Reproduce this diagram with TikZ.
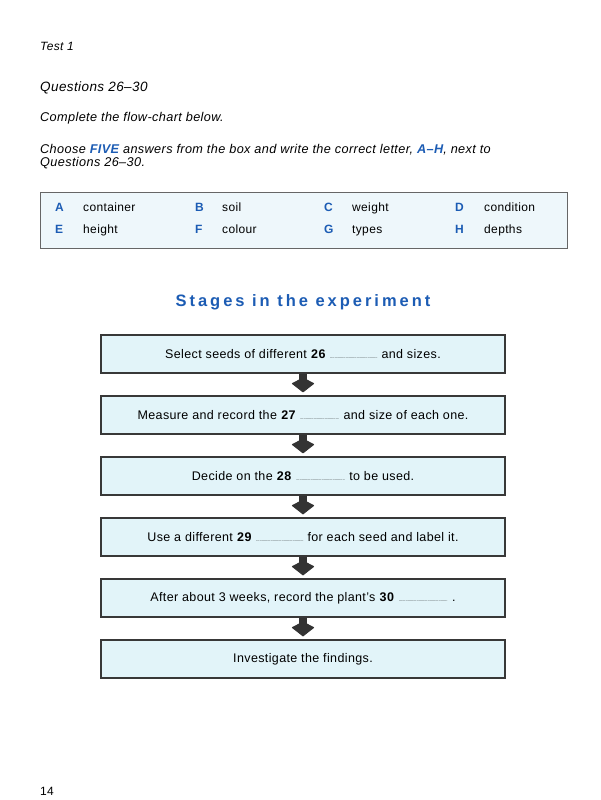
\documentclass[tikz,border=0pt]{standalone}
\usepackage{fontspec}
\setmainfont[LetterSpace=3]{Liberation Sans}
\newfontfamily\titlefont[LetterSpace=18]{Liberation Sans}
\usetikzlibrary{arrows.meta,positioning}
\definecolor{testblue}{RGB}{28,92,180}
\definecolor{boxfill}{RGB}{226,244,249}
\definecolor{optfill}{RGB}{238,247,251}
% dotted answer gap
\newcommand{\gapline}[1]{{\fontsize{4.5}{4.5}\selectfont\leaders\hbox to 1.1pt{\hss.\hss}\hskip #1}}

\begin{document}
\begin{tikzpicture}[x=1pt,y=-1pt,
  instr/.style={anchor=base west,inner sep=0pt,font=\fontsize{12.7}{14}\selectfont\itshape},
  optletter/.style={anchor=base west,inner sep=0pt,text=testblue,font=\fontsize{12}{14}\selectfont\bfseries},
  optword/.style={anchor=base west,inner sep=0pt,font=\fontsize{12}{14}\selectfont},
  stage/.style={draw=black!78,line width=1.3pt,fill=boxfill,minimum width=404pt,
    minimum height=38pt,inner sep=0pt,font=\fontsize{12.5}{15}\selectfont},
  flow/.style={draw=black!80,fill=black!80,line width=7.5pt,
    -{Kite[width=23pt,length=15pt,inset=6pt,line width=1pt,line join=round]},shorten >=3pt},
  node distance=21.7pt]
\useasboundingbox[fill=white] (0,0) rectangle (600,800);

% heading and instructions
\node[instr,font=\fontsize{12}{14}\selectfont\itshape] (test) at (40,51) {Test 1};
\node[instr,font=\fontsize{13.5}{15}\selectfont\itshape] (qhead) at (40,92) {Questions 26--30};
\node[instr] (complete) at (40,121) {Complete the flow-chart below.};
\node[instr] (choose1) at (40,153) {Choose \textcolor{testblue}{\bfseries FIVE} answers from the box and write the correct letter, \textcolor{testblue}{\bfseries A--H}, next to};
\node[instr] (choose2) at (40,166) {Questions 26--30.};

% box of options
\node[draw=black!60,line width=0.8pt,fill=optfill,minimum width=527pt,minimum height=56pt,inner sep=0pt] (options) at (303.5,220) {};
\foreach \l/\x/\y in {A/55/211, B/195/211, C/324/211, D/455/211,
                      E/55/233, F/195/233, G/324/233, H/455/233}{
  \node[optletter] (opt\l) at (\x,\y) {\l};
}
\node[optword] at (83,211) {container};
\node[optword] at (222,211) {soil};
\node[optword] at (352,211) {weight};
\node[optword] at (484,211) {condition};
\node[optword] at (83,233) {height};
\node[optword] at (222,233) {colour};
\node[optword] at (352,233) {types};
\node[optword] at (484,233) {depths};

% flow-chart
\node[text=testblue,font=\fontsize{16.5}{18}\selectfont\titlefont\bfseries] (title) at (303,302) {Stages in the experiment};
\node[stage] (s1) at (303,354) {Select seeds of different \textbf{26} \gapline{48pt} and sizes.};
\node[stage,below=of s1] (s2) {Measure and record the \textbf{27} \gapline{40pt} and size of each one.};
\node[stage,below=of s2] (s3) {Decide on the \textbf{28} \gapline{50pt} to be used.};
\node[stage,below=of s3] (s4) {Use a different \textbf{29} \gapline{48pt} for each seed and label it.};
\node[stage,below=of s4] (s5) {After about 3 weeks, record the plant's \textbf{30} \gapline{50pt} .};
\node[stage,below=of s5] (s6) {Investigate the findings.};
\foreach \a/\b in {s1/s2,s2/s3,s3/s4,s4/s5,s5/s6}
  \draw[flow] (\a.south) -- (\b.north);

% page number
\node[optword] (page) at (40,795) {14};
\end{tikzpicture}
\end{document}
